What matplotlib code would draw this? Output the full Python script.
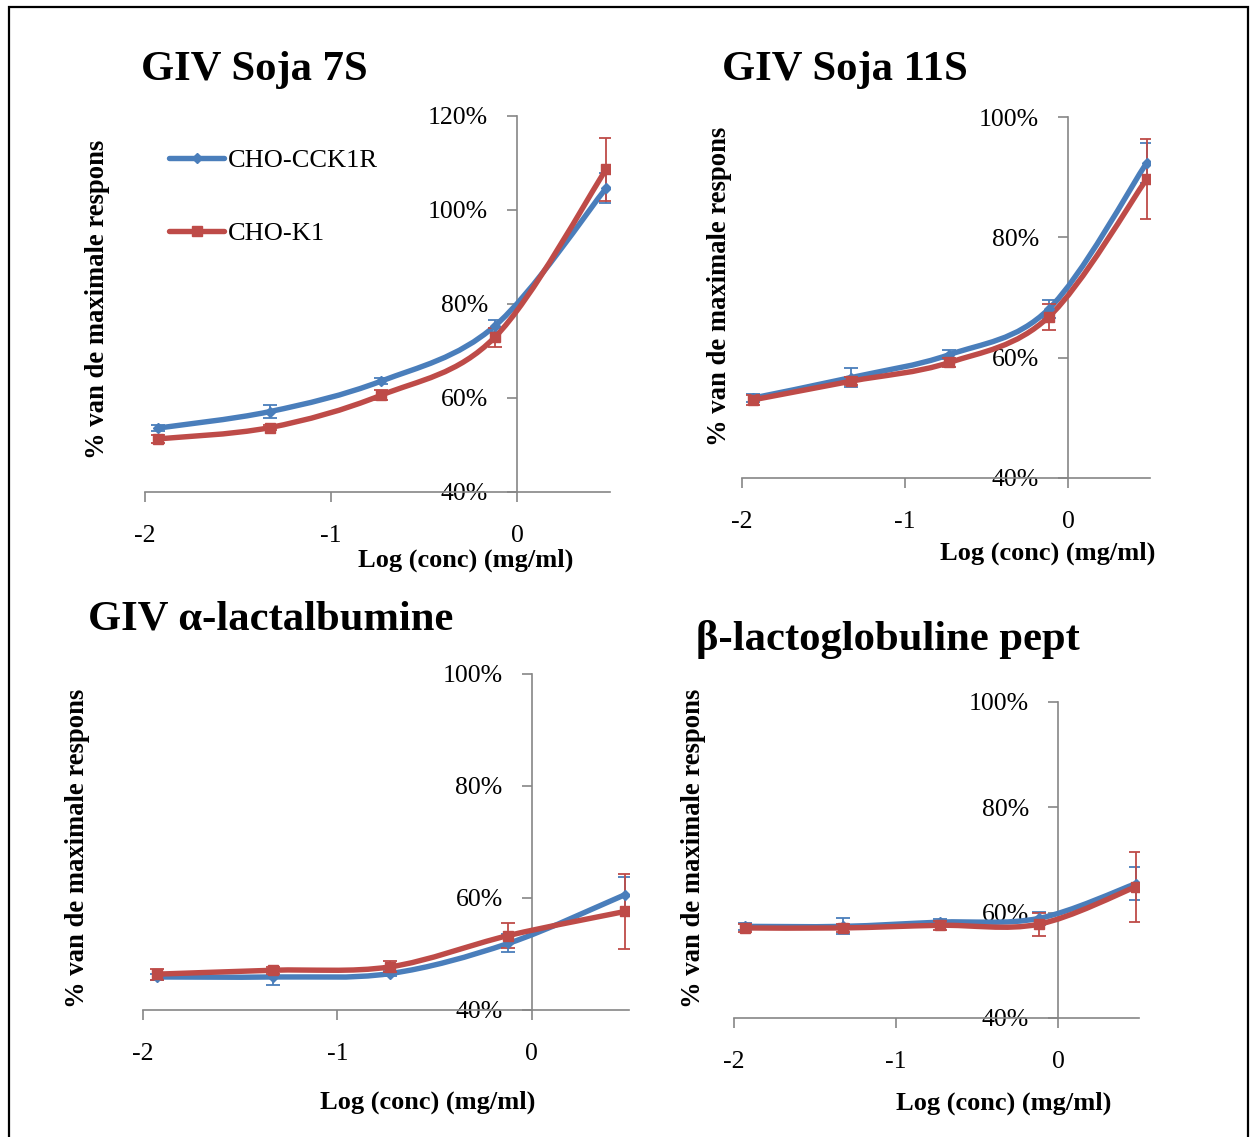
import numpy as np
import matplotlib
matplotlib.use("Agg")
import matplotlib.pyplot as plt
from matplotlib.path import Path
from matplotlib.patches import PathPatch, Rectangle
from matplotlib.lines import Line2D

plt.rcParams["font.family"] = ["Liberation Serif", "DejaVu Serif"]

W, H = 1250, 1137

# log concentration (mg/ml), same for all panels
log_conc = [-1.93, -1.33, -0.73, -0.12, 0.48]
series_names = ["CHO-CCK1R", "CHO-K1"]

# % of maximal response
soja7s_cck1r = [53.6, 57.1, 63.6, 75.3, 104.7]
soja7s_cck1r_err = [0.6, 1.4, 0.6, 1.2, 3.2]
soja7s_k1 = [51.3, 53.7, 60.6, 72.9, 108.7]
soja7s_k1_err = [0.8, 0.6, 1.0, 2.0, 6.7]

soja11s_cck1r = [53.3, 56.7, 60.5, 68.1, 92.4]
soja11s_cck1r_err = [0.7, 1.5, 0.7, 1.5, 3.3]
soja11s_k1 = [53.0, 56.1, 59.2, 66.8, 89.7]
soja11s_k1_err = [0.8, 0.7, 0.8, 2.2, 6.7]

alac_cck1r = [45.9, 45.9, 46.5, 51.9, 60.6]
alac_cck1r_err = [0.6, 1.5, 0.5, 1.6, 3.1]
alac_k1 = [46.4, 47.1, 47.7, 53.3, 57.6]
alac_k1_err = [1.0, 0.6, 1.0, 2.2, 6.7]

blg_cck1r = [57.4, 57.4, 58.2, 58.9, 65.5]
blg_cck1r_err = [0.6, 1.5, 0.6, 1.3, 3.1]
blg_k1 = [57.1, 57.1, 57.6, 57.8, 64.9]
blg_k1_err = [0.8, 0.8, 0.8, 2.2, 6.6]

x_ticks = [-2, -1, 0]
x_tick_labels = ["-2", "-1", "0"]

BLUE = "#4A7EBB"
RED = "#BE4B48"
GREY = "#868686"


def px(x, y):
    return x / W, 1 - y / H


def smooth_path(x, y):
    # Catmull-Rom style bezier through the data points (like Excel "smoothed line")
    n = len(x)
    verts = [(x[0], y[0])]
    codes = [Path.MOVETO]
    for i in range(n - 1):
        a = i - 1 if i > 0 else i
        d = i + 2 if i + 2 < n else i + 1
        c1 = (x[i] + (x[i + 1] - x[a]) / 6, y[i] + (y[i + 1] - y[a]) / 6)
        c2 = (x[i + 1] - (x[d] - x[i]) / 6, y[i + 1] - (y[d] - y[i]) / 6)
        verts += [c1, c2, (x[i + 1], y[i + 1])]
        codes += [Path.CURVE4] * 3
    return Path(verts, codes)


def draw_series(ax, y, err, color, marker, ms):
    ax.add_patch(PathPatch(smooth_path(log_conc, y), facecolor="none",
                           edgecolor=color, lw=3.9, capstyle="round",
                           joinstyle="round", zorder=3))
    ax.errorbar(log_conc, y, yerr=err, fmt="none", ecolor=color,
                elinewidth=1.3, capsize=5, capthick=1.3, zorder=3)
    ax.plot(log_conc, y, linestyle="none", marker=marker, ms=ms,
            color=color, zorder=4)


def setup_axes(rect, ylim, yticks):
    l, t, r, b = rect
    ax = fig.add_axes([l / W, 1 - b / H, (r - l) / W, (b - t) / H])
    ax.set_xlim(-2, 0.5)
    ax.set_ylim(*ylim)
    ax.spines["top"].set_visible(False)
    ax.spines["right"].set_visible(False)
    ax.spines["left"].set_position(("data", 0))
    for s in ("left", "bottom"):
        ax.spines[s].set_color(GREY)
        ax.spines[s].set_linewidth(1.2)
    ax.set_xticks(x_ticks)
    ax.set_xticklabels(x_tick_labels)
    ax.set_yticks(yticks)
    ax.set_yticklabels([f"{v}%" for v in yticks])
    ax.tick_params(axis="x", direction="out", length=7, width=1.2,
                   color=GREY, pad=17, labelsize=18.5)
    ax.tick_params(axis="y", direction="out", length=7, width=1.2,
                   color=GREY, pad=14, labelsize=18.5)
    ax.patch.set_visible(False)
    return ax


fig = plt.figure(figsize=(W / 100, H / 100), dpi=100)

panels = [
    dict(rect=(145, 116, 610, 492), ylim=(40, 120), yticks=[40, 60, 80, 100, 120],
         data=(soja7s_cck1r, soja7s_cck1r_err, soja7s_k1, soja7s_k1_err),
         title="GIV Soja 7S", tpos=(141, 80), ypos=(98, 299), xpos=(466, 560)),
    dict(rect=(742, 117, 1150, 478), ylim=(40, 100), yticks=[40, 60, 80, 100],
         data=(soja11s_cck1r, soja11s_cck1r_err, soja11s_k1, soja11s_k1_err),
         title="GIV Soja 11S", tpos=(722, 80), ypos=(720, 286), xpos=(1048, 553)),
    dict(rect=(143, 674, 629, 1010), ylim=(40, 100), yticks=[40, 60, 80, 100],
         data=(alac_cck1r, alac_cck1r_err, alac_k1, alac_k1_err),
         title="GIV \u03b1-lactalbumine", tpos=(88, 630), ypos=(78, 848), xpos=(428, 1102)),
    dict(rect=(734, 702, 1139, 1018), ylim=(40, 100), yticks=[40, 60, 80, 100],
         data=(blg_cck1r, blg_cck1r_err, blg_k1, blg_k1_err),
         title="\u03b2-lactoglobuline pept", tpos=(696, 650), ypos=(693, 848), xpos=(1004, 1103)),
]

for p in panels:
    ax = setup_axes(p["rect"], p["ylim"], p["yticks"])
    b, be, r, re_ = p["data"]
    draw_series(ax, b, be, BLUE, "D", 5)
    draw_series(ax, r, re_, RED, "s", 7)
    fig.text(*px(*p["tpos"]), p["title"], fontsize=30.7, fontweight="bold",
             ha="left", va="baseline")
    fig.text(*px(*p["ypos"]), "% van de maximale respons", fontsize=19.2,
             fontweight="bold", rotation=90, ha="center", va="center")
    fig.text(*px(*p["xpos"]), "Log (conc) (mg/ml)", fontsize=19,
             fontweight="bold", ha="center", va="center")

handles = [
    Line2D([], [], color=BLUE, lw=3.9, marker="D", ms=5, solid_capstyle="round"),
    Line2D([], [], color=RED, lw=3.9, marker="s", ms=7, solid_capstyle="round"),
]
fig.legend(handles, series_names, loc="upper left",
           bbox_to_anchor=px(169, 149), frameon=False, borderpad=0,
           handlelength=2.1, handletextpad=0.15, labelspacing=1.87,
           fontsize=19, borderaxespad=0)

fig.patches.append(Rectangle(px(9, 1160), 1239 / W, 1153 / H, fill=False,
                             edgecolor="black", lw=1.6, transform=fig.transFigure))

fig.savefig("out.png", dpi=100)
